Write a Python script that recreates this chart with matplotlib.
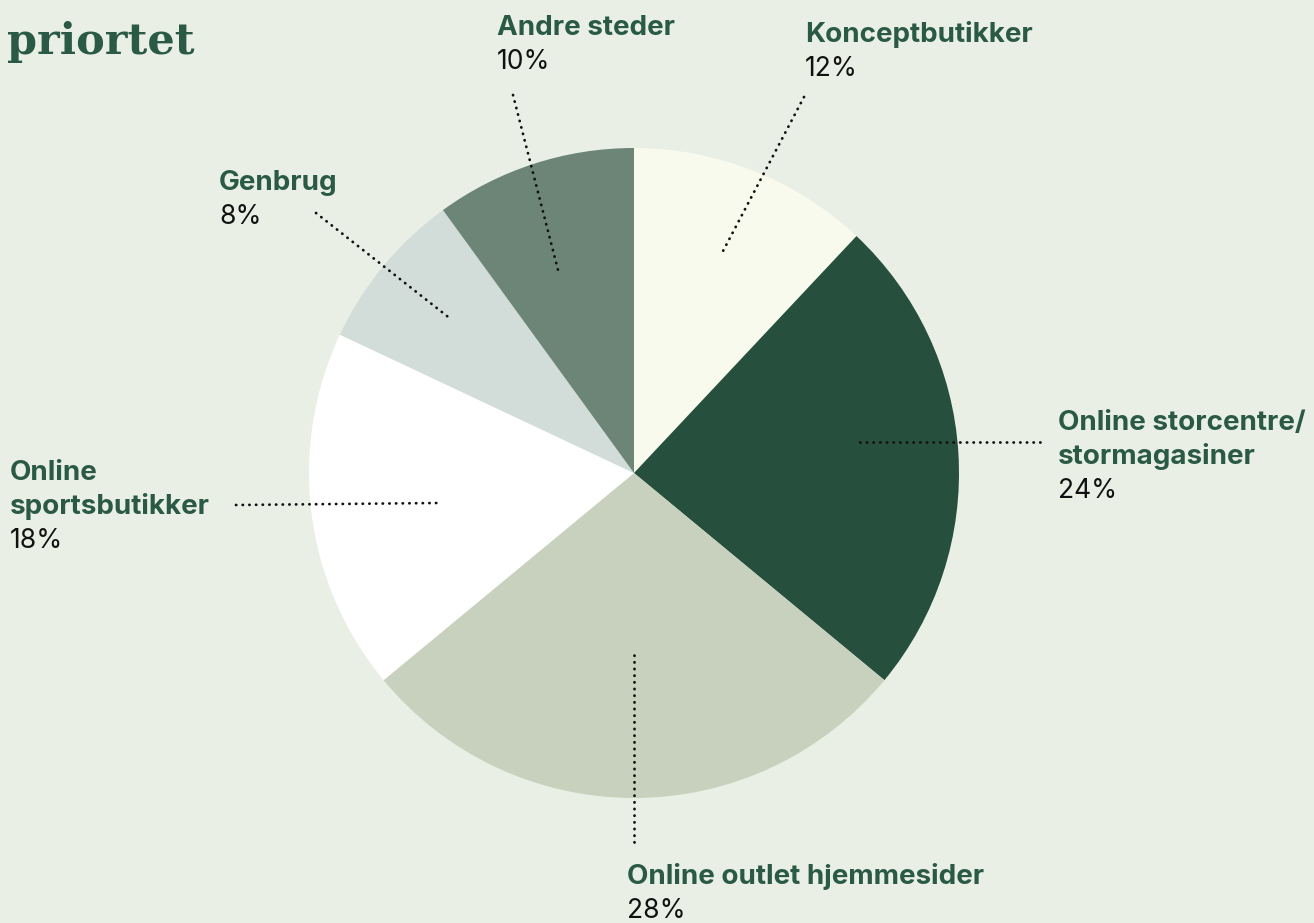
import matplotlib
matplotlib.use("Agg")
import matplotlib.pyplot as plt

# data (clockwise from top)
labels = ["Konceptbutikker", "Online storcentre/\nstormagasiner", "Online outlet hjemmesider",
          "Online\nsportsbutikker", "Genbrug", "Andre steder"]
shares = [12, 24, 28, 18, 8, 10]
colors = ["#F8FAEE", "#264F3E", "#C8D1BE", "#FFFFFF", "#D2DCD8", "#6C8577"]

BG = "#E9EFE4"
GREEN = "#2A5A45"

# label layout in pixel coords: text x, first baseline, leader start, leader end
layout = [
    (805, 42, (804, 97), (722, 253)),
    (1058, 430, (1040, 442), (855, 442)),
    (627, 884, (634, 842), (634, 652)),
    (10, 480, (236, 505), (438, 503)),
    (219, 190, (316, 213), (452, 320)),
    (497, 35, (513, 95), (558, 270)),
]
LINE = 34


def main():
    fig = plt.figure(figsize=(13.14, 9.23), dpi=100)
    fig.patch.set_facecolor(BG)
    ax = fig.add_axes([0, 0, 1, 1])
    ax.set_facecolor(BG)

    # y axis runs downward (pixel coords), so "clockwise from top" on screen
    # is counterclockwise from -90 in data space
    ax.pie(shares, colors=colors, startangle=-90, counterclock=True,
           center=(634, 473), radius=325, frame=True,
           wedgeprops=dict(linewidth=0))
    ax.set_xlim(0, 1314)
    ax.set_ylim(923, 0)
    ax.set_aspect("equal")
    ax.axis("off")

    ax.text(7, 54, "priortet", fontsize=31, fontweight="bold",
            family="DejaVu Serif", color=GREEN, va="baseline", ha="left")

    for lab, val, (tx, ty, p0, p1) in zip(labels, shares, layout):
        lines = lab.split("\n")
        for i, ln in enumerate(lines):
            ax.text(tx, ty + i * LINE, ln, fontsize=20, fontweight="bold",
                    family="Inter", color=GREEN, va="baseline", ha="left")
        ax.text(tx, ty + len(lines) * LINE, f"{val}%", fontsize=19,
                family="Inter", color="#111111", va="baseline", ha="left")
        ax.plot([p0[0], p1[0]], [p0[1], p1[1]], color="#111111", lw=2.0,
                linestyle=(0, (0.1, 2.3)), dash_capstyle="round")

    fig.savefig("out.png", dpi=100, facecolor=BG)
    plt.close(fig)


if __name__ == "__main__":
    main()
